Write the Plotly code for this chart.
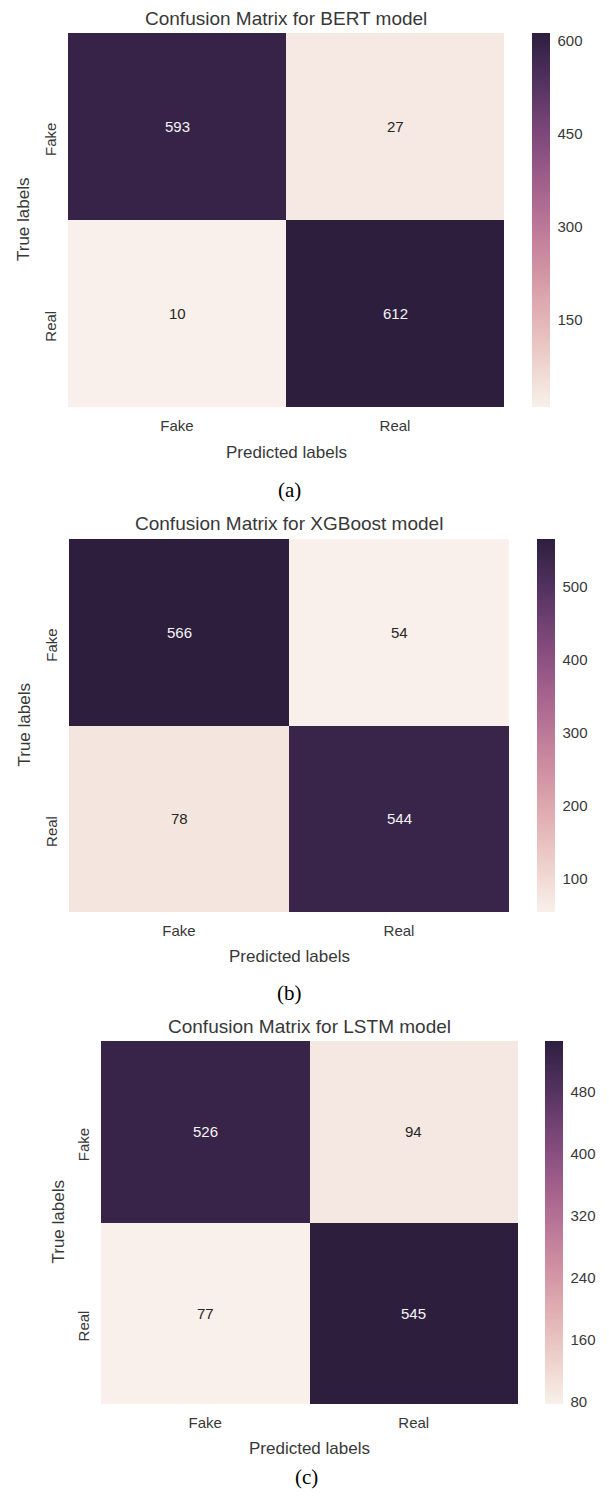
import numpy as np
import plotly.graph_objects as go

# ---- data ----
class_labels = ["Fake", "Real"]
model_titles = [
    "Confusion Matrix for BERT model",
    "Confusion Matrix for XGBoost model",
    "Confusion Matrix for LSTM model",
]
captions = ["(a)", "(b)", "(c)"]
bert_cm = [[593, 27], [10, 612]]
xgb_cm = [[566, 54], [78, 544]]
lstm_cm = [[526, 94], [77, 545]]
bert_cbar_ticks = [150, 300, 450, 600]
xgb_cbar_ticks = [100, 200, 300, 400, 500]
lstm_cbar_ticks = [80, 160, 240, 320, 400, 480]

matrices = [bert_cm, xgb_cm, lstm_cm]
cbar_ticks = [bert_cbar_ticks, xgb_cbar_ticks, lstm_cbar_ticks]

W, H = 609, 1496
SANS = "Liberation Sans, Arial, sans-serif"
SERIF = "Liberation Serif, Times New Roman, serif"
TXT = "#383838"


# ---- seaborn-style cubehelix colormap (light=.95, dark=.15) ----
def cubehelix(x, start=0.0, rot=0.4, gamma=1.0, hue=0.8):
    x = np.asarray(x, dtype=float)
    xg = x ** gamma
    a = hue * xg * (1 - xg) / 2
    phi = 2 * np.pi * (start / 3 + rot * x)
    r = xg + a * (-0.14861 * np.cos(phi) + 1.78277 * np.sin(phi))
    g = xg + a * (-0.29227 * np.cos(phi) - 0.90649 * np.sin(phi))
    b = xg + a * (1.97294 * np.cos(phi))
    return np.clip(np.stack([r, g, b], -1), 0, 1)


LIGHT, DARK = 0.95, 0.15


def cmap(t):
    return cubehelix(LIGHT + (DARK - LIGHT) * np.asarray(t, dtype=float))


def to_rgb(c):
    return "rgb(%d,%d,%d)" % tuple(int(round(v * 255)) for v in c)


stops = np.linspace(0, 1, 41)
colorscale = [[float(s), to_rgb(c)] for s, c in zip(stops, cmap(stops))]


def luminance(c):
    c = np.where(c <= 0.03928, c / 12.92, ((c + 0.055) / 1.055) ** 2.4)
    return 0.2126 * c[0] + 0.7152 * c[1] + 0.0722 * c[2]


# ---- panel geometry (pixels) ----
panels = [
    dict(x0=68, x1=504, y0=33, y1=407, cb=532, title_y=18, lab_y=453, cap_y=490,
         cap_x=289, ylab_x=23),
    dict(x0=69, x1=509, y0=539, y1=912, cb=537, title_y=523, lab_y=957, cap_y=993,
         cap_x=289, ylab_x=24),
    dict(x0=101, x1=518, y0=1041, y1=1404, cb=545, title_y=1026, lab_y=1448,
         cap_y=1477, cap_x=306, ylab_x=58),
]


def fx(px):
    return px / W


def fy(py):
    return 1 - py / H


fig = go.Figure()
annotations = []

for i, (cm, p) in enumerate(zip(matrices, panels)):
    n = "" if i == 0 else str(i + 1)
    z = np.array(cm)
    zmin, zmax = z.min(), z.max()
    fig.add_trace(go.Heatmap(
        z=cm, x=class_labels, y=class_labels,
        xaxis="x" + n, yaxis="y" + n,
        colorscale=colorscale, zmin=zmin, zmax=zmax,
        hoverinfo="skip",
        colorbar=dict(
            x=fx(p["cb"]), xanchor="left", xpad=0,
            y=fy((p["y0"] + p["y1"]) / 2), yanchor="middle", ypad=0,
            len=p["y1"] - p["y0"], lenmode="pixels",
            thickness=18, thicknessmode="pixels",
            outlinewidth=0, tickvals=cbar_ticks[i],
            ticks="outside", ticklen=5, tickcolor="rgba(0,0,0,0)",
            tickfont=dict(family=SANS, size=15, color=TXT),
        ),
    ))
    # value labels in each cell
    for r, row_lab in enumerate(class_labels):
        for c, col_lab in enumerate(class_labels):
            v = cm[r][c]
            col = cmap((v - zmin) / (zmax - zmin))
            tcol = "#262626" if luminance(col) > 0.408 else "#f4f4f4"
            annotations.append(dict(
                x=col_lab, y=row_lab, xref="x" + n, yref="y" + n,
                text=str(v), showarrow=False,
                font=dict(family=SANS, size=15, color=tcol),
            ))
    fig.update_layout(**{
        "xaxis" + n: dict(
            domain=[fx(p["x0"]), fx(p["x1"])], anchor="y" + n,
            showgrid=False, zeroline=False, showline=False, ticks="",
            ticklabelstandoff=8,
            tickfont=dict(family=SANS, size=15, color=TXT),
        ),
        "yaxis" + n: dict(
            domain=[fy(p["y1"]), fy(p["y0"])], anchor="x" + n,
            autorange="reversed",
            showgrid=False, zeroline=False, showline=False, ticks="",
            tickangle=-90, ticklabelstandoff=8, ticklabelshift=-15,
            tickfont=dict(family=SANS, size=15, color=TXT),
        ),
    })
    cx = (p["x0"] + p["x1"]) / 2
    annotations += [
        dict(x=fx(cx), y=fy(p["title_y"]), xref="paper", yref="paper",
             text=model_titles[i], showarrow=False, xanchor="center", yanchor="middle",
             font=dict(family=SANS, size=19, color=TXT)),
        dict(x=fx(cx), y=fy(p["lab_y"]), xref="paper", yref="paper",
             text="Predicted labels", showarrow=False, xanchor="center", yanchor="middle",
             font=dict(family=SANS, size=17, color=TXT)),
        dict(x=fx(p["ylab_x"]), y=fy((p["y0"] + p["y1"]) / 2), xref="paper", yref="paper",
             text="True labels", showarrow=False, textangle=-90,
             xanchor="center", yanchor="middle",
             font=dict(family=SANS, size=17, color=TXT)),
        dict(x=fx(p["cap_x"]), y=fy(p["cap_y"]), xref="paper", yref="paper",
             text=captions[i], showarrow=False, xanchor="center", yanchor="middle",
             font=dict(family=SERIF, size=21, color="#000000")),
    ]

fig.update_layout(
    width=W, height=H,
    margin=dict(l=0, r=0, t=0, b=0),
    paper_bgcolor="white", plot_bgcolor="white",
    annotations=annotations,
    showlegend=False,
)

fig.write_html("out.html")
